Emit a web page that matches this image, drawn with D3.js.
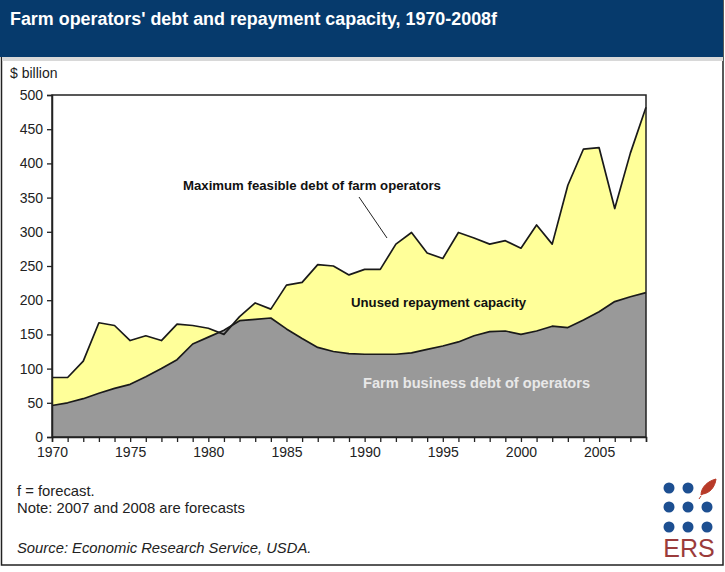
<!DOCTYPE html>
<html>
<head>
<meta charset="utf-8">
<script src="https://cdn.jsdelivr.net/npm/d3@7"></script>
<style>
  html, body { margin: 0; padding: 0; background: #fff; }
  svg { display: block; }
  text { font-family: "Liberation Sans", Arial, sans-serif; }
</style>
</head>
<body>
<svg id="chart" width="725" height="572"></svg>
<script>
// ---- Data ----
const years = d3.range(1970, 2009);
const maxFeasibleDebt = [87, 87, 111, 167, 163, 141, 148, 141, 165, 163, 159, 150, 176, 196, 187, 222,
  226, 252, 250, 237, 245, 245, 282, 299, 269, 261, 299, 291, 282, 287, 276, 310, 282, 368, 421, 423, 334, 415, 482];
const farmBusinessDebt = [46, 50, 56, 64, 71, 77, 88, 100, 113, 136, 146, 156, 170, 172, 174, 158,
  144, 131, 125, 122, 121, 121, 121, 123, 128, 133, 139, 148, 154, 155, 150, 155, 162, 160, 171, 183, 198, 205, 211];
const yTicks = [0, 50, 100, 150, 200, 250, 300, 350, 400, 450, 500];
const xTickLabels = [1970, 1975, 1980, 1985, 1990, 1995, 2000, 2005];

const svg = d3.select("#chart");
const plot = { left: 52, right: 646, top: 95, bottom: 437 };

// outer frame
svg.append("rect").attr("x", 1.5).attr("y", 0.5).attr("width", 721.5).attr("height", 564.5)
  .attr("fill", "#fff").attr("stroke", "#222").attr("stroke-width", 1.5);

// title bar + shadow
svg.append("rect").attr("x", 2).attr("y", 57).attr("width", 721).attr("height", 4).attr("fill", "#d8d8d8");
svg.append("rect").attr("x", 0).attr("y", 0).attr("width", 723).attr("height", 57).attr("fill", "#063a6c");
svg.append("text").attr("x", 10).attr("y", 25).attr("fill", "#fff")
  .attr("font-size", 17.5).attr("font-weight", "bold")
  .attr("textLength", 487).attr("lengthAdjust", "spacingAndGlyphs")
  .text("Farm operators' debt and repayment capacity, 1970-2008f");

// scales
const x = d3.scaleLinear().domain([1970, 2008]).range([plot.left, plot.right]);
const y = d3.scaleLinear().domain([0, 500]).range([plot.bottom, plot.top]);

const upperData = years.map((yr, i) => ({ yr, v: maxFeasibleDebt[i] }));
const lowerData = years.map((yr, i) => ({ yr, v: farmBusinessDebt[i] }));

// yellow area (max feasible debt)
svg.append("path").datum(upperData)
  .attr("fill", "#ffff99")
  .attr("d", d3.area().x(d => x(d.yr)).y0(y(0)).y1(d => y(d.v)));
// gray area (farm business debt)
svg.append("path").datum(lowerData)
  .attr("fill", "#999999")
  .attr("d", d3.area().x(d => x(d.yr)).y0(y(0)).y1(d => y(d.v)));

const line = d3.line().x(d => x(d.yr)).y(d => y(d.v));
svg.append("path").datum(upperData).attr("fill", "none").attr("stroke", "#1a1a1a")
  .attr("stroke-width", 1.7).attr("stroke-linejoin", "round").attr("d", line);
svg.append("path").datum(lowerData).attr("fill", "none").attr("stroke", "#1a1a1a")
  .attr("stroke-width", 1.7).attr("stroke-linejoin", "round").attr("d", line);

// plot frame (top and right)
svg.append("rect").attr("x", plot.left).attr("y", plot.top)
  .attr("width", plot.right - plot.left).attr("height", plot.bottom - plot.top)
  .attr("fill", "none").attr("stroke", "#222").attr("stroke-width", 1.5);

// axes
const yAxis = d3.axisLeft(y).tickValues(yTicks).tickSize(5).tickPadding(4);
const gy = svg.append("g").attr("transform", `translate(${plot.left},0)`).call(yAxis);
const xAxis = d3.axisBottom(x).tickValues(years).tickSize(5).tickPadding(5)
  .tickFormat(d => xTickLabels.includes(d) ? String(d) : "");
const gx = svg.append("g").attr("transform", `translate(0,${plot.bottom})`).call(xAxis);
[gx, gy].forEach(g => {
  g.select(".domain").attr("stroke", "#222").attr("stroke-width", 1.5);
  g.selectAll(".tick line").attr("stroke", "#222").attr("stroke-width", 1.3);
  g.selectAll("text").attr("font-family", "Liberation Sans, Arial, sans-serif")
    .attr("font-size", 14).attr("fill", "#222");
});

// axis unit label
svg.append("text").attr("x", 10).attr("y", 78).attr("font-size", 14).attr("fill", "#222").text("$ billion");

// annotations
svg.append("text").attr("x", 183).attr("y", 190).attr("font-size", 13.2).attr("font-weight", "bold")
  .attr("fill", "#111").text("Maximum feasible debt of farm operators");
svg.append("line").attr("x1", 359).attr("y1", 197).attr("x2", 387).attr("y2", 238)
  .attr("stroke", "#222").attr("stroke-width", 1);
svg.append("text").attr("x", 351).attr("y", 307).attr("font-size", 13.2).attr("font-weight", "bold")
  .attr("fill", "#111").text("Unused repayment capacity");
svg.append("text").attr("x", 363).attr("y", 388).attr("font-size", 14.6).attr("font-weight", "bold")
  .attr("fill", "#e8e8e8").text("Farm business debt of operators");

// footnotes
svg.append("text").attr("x", 17).attr("y", 496).attr("font-size", 14.8).attr("fill", "#222").text("f = forecast.");
svg.append("text").attr("x", 17).attr("y", 513).attr("font-size", 14.8).attr("fill", "#222").text("Note: 2007 and 2008 are forecasts");
svg.append("text").attr("x", 17).attr("y", 553).attr("font-size", 14.8).attr("font-style", "italic")
  .attr("fill", "#222").text("Source: Economic Research Service, USDA.");

// ERS logo
const dotX = [669, 688, 707], dotY = [488, 507, 527];
dotY.forEach((cy, r) => dotX.forEach((cx, c) => {
  if (r === 0 && c === 2) return;
  svg.append("circle").attr("cx", cx).attr("cy", cy).attr("r", 5.5).attr("fill", "#1d4f91");
}));
svg.append("path")
  .attr("d", "M701,495 C701,487 708,481 716,479 C715,487 710,493 703,494 Z M701,496 L699,499")
  .attr("fill", "#b83a28").attr("stroke", "#b83a28").attr("stroke-width", 1);
svg.append("text").attr("x", 689).attr("y", 557).attr("text-anchor", "middle")
  .attr("font-size", 25).attr("fill", "#9b3b3b").attr("font-family", "Liberation Sans, Arial, sans-serif")
  .text("ERS");
</script>
</body>
</html>
